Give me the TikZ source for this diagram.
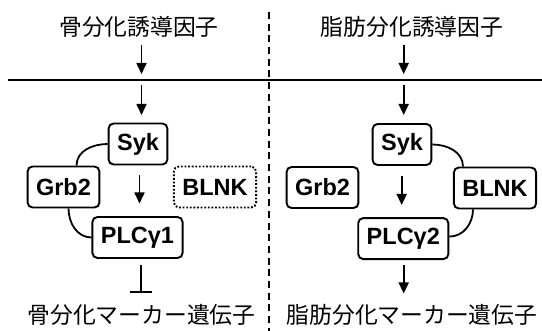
\documentclass[tikz,border=0pt]{standalone}
\usepackage{fontspec}
\setmainfont{Liberation Sans}
\newfontfamily\jp{Noto Sans CJK JP}
\usetikzlibrary{arrows.meta,calc}
\begin{document}
\begin{tikzpicture}[x=1pt,y=-1pt,
  box/.style={draw,line width=1.9pt,rounded corners=5pt,minimum height=41pt,inner xsep=8.5pt,font=\fontsize{23.5}{24}\selectfont\bfseries},
  dotbox/.style={box,dash pattern=on 1.8pt off 1.8pt},
  jptext/.style={font=\jp\fontsize{22.8}{24}\selectfont,anchor=base,inner sep=0pt},
  arr/.style={line width=1.7pt,-{Triangle[width=10pt,length=11pt]}},
  inh/.style={line width=1.7pt,-{Bar[width=22pt,line width=1.7pt]}},
  link/.style={line width=1.8pt},
  membrane/.style={line width=2.6pt},
  divider/.style={line width=1.6pt,dash pattern=on 7pt off 4.7pt}]
\useasboundingbox (0,0) rectangle (542,331);
% divider and membrane
\coordinate (dTop) at (269,12);
\coordinate (dBot) at (269,331);
\draw[divider] (dTop) -- (dBot);
\coordinate (mW) at (8,80);
\coordinate (mE) at (542,80);
\draw[membrane] (mW) -- (mE);
% texts
\node[jptext] (tL) at (139,36) {骨分化誘導因子};
\node[jptext] (tR) at (412,36) {脂肪分化誘導因子};
\node[jptext] (bL) at (141.5,324) {骨分化マーカー遺伝子};
\node[jptext] (bR) at (412,324) {脂肪分化マーカー遺伝子};
% left boxes
\node[box] (sykL) at (138,144) {Syk};
\node[box] (grbL) at (63.5,187) {Grb2};
\node[dotbox] (blnkL) at (215,187) {BLNK};
\node[box] (plcL) at (137.5,237.5) {PLCγ1};
% right boxes
\node[box] (sykR) at (402,144.5) {Syk};
\node[box] (grbR) at (322.5,187.5) {Grb2};
\node[box] (blnkR) at (495,188) {BLNK};
\node[box] (plcR) at (403.3,238.6) {PLCγ2};
% left arrows
\coordinate (la1s) at (141.5,45);
\coordinate (la1e) at (141.5,74);
\coordinate (la2s) at (141.5,85);
\coordinate (la2e) at (141.5,115);
\coordinate (la3s) at (139.5,175);
\coordinate (la3e) at (139.5,203.5);
\coordinate (la4s) at (141,265);
\coordinate (la4e) at (141,293);
\draw[arr] (la1s) -- (la1e);
\draw[arr] (la2s) -- (la2e);
\draw[arr] (la3s) -- (la3e);
\draw[inh] (la4s) -- (la4e);
% right arrows
\coordinate (ra1s) at (403.7,45);
\coordinate (ra1e) at (403.7,74);
\coordinate (ra2s) at (403.7,85);
\coordinate (ra2e) at (403.7,115);
\coordinate (ra3s) at (401.7,176.5);
\coordinate (ra3e) at (401.7,205);
\coordinate (ra4s) at (403.7,265);
\coordinate (ra4e) at (403.7,293.5);
\draw[arr] (ra1s) -- (ra1e);
\draw[arr] (ra2s) -- (ra2e);
\draw[arr] (ra3s) -- (ra3e);
\draw[arr] (ra4s) -- (ra4e);
% links
\draw[link] (sykL.west) to[out=180,in=90] ([xshift=13pt]grbL.north);
\draw[link] ([xshift=5pt]grbL.south) to[out=-90,in=180] (plcL.west);
\draw[link] (sykR.east) to[out=0,in=90] ([xshift=-32pt]blnkR.north);
\draw[link] ([xshift=-22pt]blnkR.south) to[out=-90,in=0] ([yshift=2pt]plcR.east);
\end{tikzpicture}
\end{document}
